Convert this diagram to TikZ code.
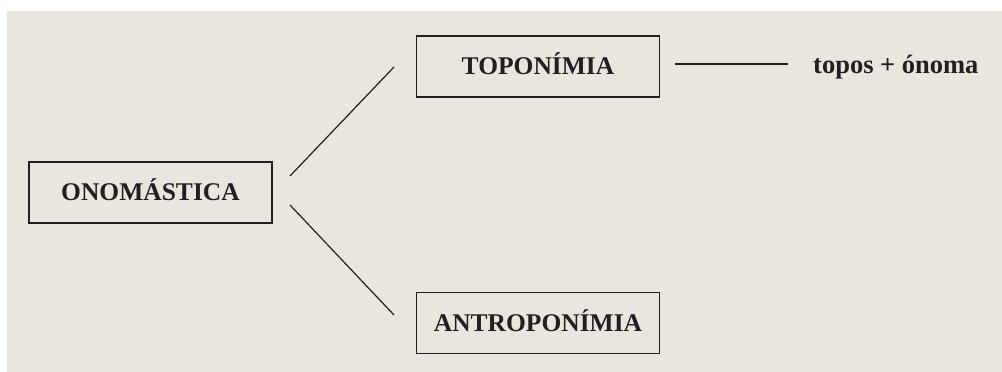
\documentclass[tikz,border=0pt]{standalone}
\usepackage{fontspec}
\setmainfont{Liberation Serif}
\definecolor{bg}{HTML}{EAE6DF}
\definecolor{ink}{HTML}{231F20}
\begin{document}
\begin{tikzpicture}[x=1pt,y=-1pt,
  termbox/.style={draw=ink, line width=1.3pt, inner sep=0pt, text=ink,
    font=\fontsize{25.5}{30}\selectfont\bfseries, text height=16.8pt, text depth=0pt,
    minimum height=61pt, minimum width=243pt},
  link/.style={draw=ink, line width=1.2pt}]
\useasboundingbox (0,0) rectangle (1002,372);
\fill[bg] (7,11) rectangle (1002,372);
\node[termbox] (onom) at (150.5,192.5) {ONOMÁSTICA};
\node[termbox] (topo) at (538,66.5) {TOPONÍMIA};
\node[termbox] (antro) at (538,323) {ANTROPONÍMIA};
\node[anchor=base west, inner sep=0pt, text=ink, font=\fontsize{26.5}{30}\selectfont\bfseries] (ety) at (813,73) {topos + ónoma};
\coordinate (u1) at (290,176);
\coordinate (u2) at (394,67);
\coordinate (l1) at (290,205);
\coordinate (l2) at (394,315);
\coordinate (h1) at (675,64);
\coordinate (h2) at (788,64);
\draw[link] (u1) -- (u2);
\draw[link] (l1) -- (l2);
\draw[link] (h1) -- (h2);
\end{tikzpicture}
\end{document}
